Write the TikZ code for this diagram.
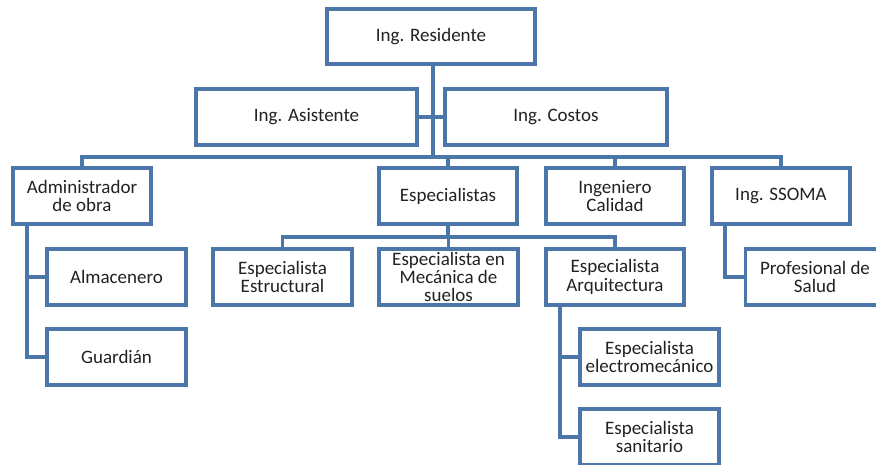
\documentclass[tikz,border=0pt]{standalone}
\usepackage{fontspec}
\setmainfont{Carlito}
\definecolor{bc}{HTML}{4A76A8}
\definecolor{tc}{HTML}{222222}
\begin{document}
\begin{tikzpicture}[x=1pt,y=-1pt,
  orgbox/.style={draw=bc,line width=3.2pt,fill=white,minimum width=138pt,minimum height=56pt,
    align=center,inner sep=0pt,text=tc,font=\fontsize{19}{18.4}\selectfont},
  conn/.style={draw=bc,line width=3.2pt}]
\useasboundingbox (0,0) rectangle (876,464);
\clip (0,0) rectangle (876,464);
\fill[white] (0,0) rectangle (876,464);
% nodes
\node[orgbox,minimum width=208pt,minimum height=55pt] (res) at (431,36.5) {Ing. Residente};
\node[orgbox,minimum width=221pt] (asis) at (306.5,117) {Ing. Asistente};
\node[orgbox,minimum width=222pt] (cost) at (556,117) {Ing. Costos};
\node[orgbox] (adm) at (82,196) {Administrador\\de obra};
\node[orgbox] (esp) at (448,196) {Especialistas};
\node[orgbox] (cal) at (615,196) {Ingeniero\\Calidad};
\node[orgbox] (sso) at (781,196) {Ing. SSOMA};
\node[orgbox,minimum width=139pt] (alm) at (116.5,277) {Almacenero};
\node[orgbox,minimum width=139pt] (gua) at (116.5,357) {Guardián};
\node[orgbox,minimum width=139pt] (est) at (282.5,277) {Especialista\\Estructural};
\node[orgbox,minimum width=139pt] (mec) at (448.5,277) {Especialista en\\Mecánica de\\suelos};
\node[orgbox] (arq) at (615,277) {Especialista\\Arquitectura};
\node[orgbox,minimum width=139pt] (ele) at (649.5,357) {Especialista\\electromecánico};
\node[orgbox,minimum width=139pt] (san) at (649.5,437) {Especialista\\sanitario};
\node[orgbox,minimum width=139pt] (pro) at (815,277) {Profesional de\\Salud};
% connectors
\coordinate (t) at (433,157);
\coordinate (eb) at (448,237);
\coordinate (av) at (27,300);
\coordinate (ax) at (560,300);
\coordinate (sx) at (725,300);
\draw[conn] (res.south -| t) -- (t);
\draw[conn] (asis.east) -- (cost.west);
\draw[conn] (adm.north) -- (adm.north |- t) -- (sso.north |- t) -- (sso.north);
\draw[conn] (esp.north) -- (esp.north |- t);
\draw[conn] (cal.north) -- (cal.north |- t);
\draw[conn] (esp.south) -- (esp.south |- eb);
\draw[conn] (est.north) -- (est.north |- eb) -- (arq.north |- eb) -- (arq.north);
\draw[conn] (mec.north) -- (mec.north |- eb);
\draw[conn] (adm.south -| av) |- (gua.west);
\draw[conn] (alm.west) -- (alm.west -| av);
\draw[conn] (arq.south -| ax) |- (san.west);
\draw[conn] (ele.west) -- (ele.west -| ax);
\draw[conn] (sso.south -| sx) |- (pro.west);
\end{tikzpicture}
\end{document}
